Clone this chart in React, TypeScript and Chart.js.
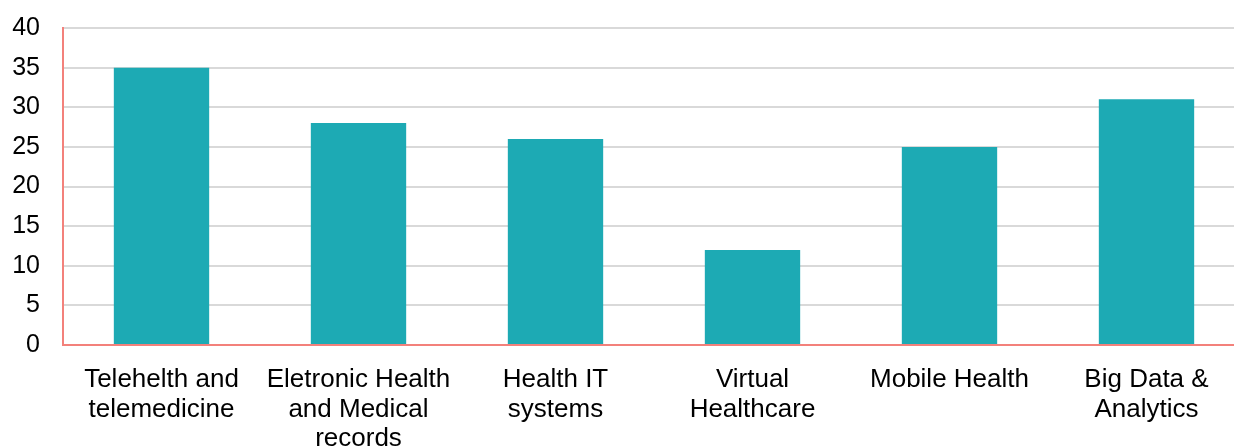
import React, { useEffect, useRef } from "react";
import { Chart, registerables } from "chart.js";

Chart.register(...registerables);

const categories: string[][] = [
  ["Telehelth and", "telemedicine"],
  ["Eletronic Health", "and Medical", "records"],
  ["Health IT", "systems"],
  ["Virtual", "Healthcare"],
  ["Mobile Health"],
  ["Big Data &", "Analytics"],
];
const values: number[] = [35, 28, 26, 12, 25, 31];
const yMin = 0;
const yMax = 40;
const yStep = 5;

export default function App() {
  const ref = useRef<HTMLCanvasElement | null>(null);
  useEffect(() => {
    if (!ref.current) return;
    const font = "'Liberation Sans', Arial, sans-serif";
    const chart = new Chart(ref.current, {
      type: "bar",
      data: {
        labels: categories,
        datasets: [
          {
            data: values,
            backgroundColor: "#1DAAB4",
            borderWidth: 0,
            categoryPercentage: 1,
            barPercentage: 0.484,
          },
        ],
      },
      options: {
        responsive: false,
        animation: false,
        layout: { padding: { top: 28, right: 0, left: 0, bottom: 0 } },
        plugins: { legend: { display: false }, tooltip: { enabled: false } },
        scales: {
          x: {
            grid: { display: false, drawTicks: false },
            border: { display: true, color: "#F3817B", width: 2 },
            ticks: {
              color: "#000",
              font: { family: font, size: 26, lineHeight: 1.14 },
              padding: 20,
              maxRotation: 0,
              autoSkip: false,
            },
            afterFit: (s: any) => {
              s.height = 103;
              s.paddingLeft = 0;
              s.paddingRight = 0;
            },
          },
          y: {
            min: yMin,
            max: yMax,
            grid: { color: "#D9D9D9", lineWidth: 2, drawTicks: false },
            border: { display: true, color: "#F3817B", width: 2 },
            ticks: {
              stepSize: yStep,
              color: "#000",
              font: { family: font, size: 25 },
              padding: 23,
            },
            afterFit: (s: any) => {
              s.width = 63;
              s.paddingTop = 0;
              s.paddingBottom = 0;
            },
          },
        },
      },
    });
    return () => chart.destroy();
  }, []);
  return (
    <div
      style={{
        position: "absolute",
        left: 0,
        top: 0,
        width: 1234,
        height: 448,
        overflow: "hidden",
        background: "#fff",
      }}
    >
      <canvas ref={ref} width={1245} height={448} style={{ display: "block" }} />
    </div>
  );
}
